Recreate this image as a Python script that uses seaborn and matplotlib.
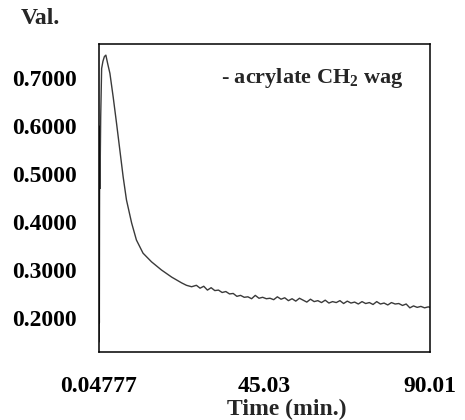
import pandas as pd
import matplotlib
matplotlib.use("Agg")
import matplotlib.pyplot as plt
from matplotlib.ticker import FixedLocator, MultipleLocator
import seaborn as sns

# time (min.) and band value
time_min = [0.048, 0.09, 0.13, 0.18, 0.24, 0.30, 0.50, 0.75, 1.1, 1.5, 1.9, 2.4,
            3.0, 3.9, 4.8, 5.7, 6.6, 7.5, 8.9, 10.2, 12.0, 14.3, 17.0, 19.8,
            22.5, 23.8, 25.2, 26.5, 27.5, 28.5, 29.5, 30.5, 31.5, 32.5, 33.5,
            34.5, 35.5, 36.5, 37.5, 38.5, 39.5, 40.5, 41.5, 42.5, 43.5, 44.5,
            45.5, 46.5, 47.5, 48.5, 49.5, 50.5, 51.5, 52.5, 53.5, 54.5, 55.5,
            56.5, 57.5, 58.5, 59.5, 60.5, 61.5, 62.5, 63.5, 64.5, 65.5, 66.5,
            67.5, 68.5, 69.5, 70.5, 71.5, 72.5, 73.5, 74.5, 75.5, 76.5, 77.5,
            78.5, 79.5, 80.5, 81.5, 82.5, 83.5, 84.5, 85.5, 86.5, 87.5, 88.5,
            89.5, 90.01]
value = [0.15, 0.25, 0.19, 0.43, 0.60, 0.47, 0.62, 0.72, 0.735, 0.745, 0.748, 0.73,
         0.71, 0.66, 0.606, 0.55, 0.494, 0.446, 0.398, 0.3625, 0.335, 0.317, 0.300, 0.285,
         0.273, 0.268, 0.265, 0.268, 0.262, 0.266, 0.258, 0.263, 0.257, 0.258, 0.253,
         0.255, 0.250, 0.251, 0.245, 0.247, 0.243, 0.244, 0.240, 0.247, 0.241, 0.243,
         0.240, 0.241, 0.238, 0.244, 0.239, 0.242, 0.236, 0.240, 0.235, 0.241, 0.237,
         0.233, 0.239, 0.234, 0.236, 0.232, 0.237, 0.231, 0.234, 0.232, 0.236, 0.230,
         0.235, 0.231, 0.233, 0.229, 0.234, 0.230, 0.232, 0.228, 0.234, 0.229, 0.231,
         0.227, 0.232, 0.229, 0.230, 0.226, 0.229, 0.221, 0.225, 0.222, 0.224, 0.221,
         0.223, 0.222]

x_ticks = [0.04777, 45.03, 90.01]
x_minor = [22.54, 67.52]
x_labels = ["0.04777", "45.03", "90.01"]
y_ticks = [0.2, 0.3, 0.4, 0.5, 0.6, 0.7]

sns.set_style("white")
plt.rcParams["font.family"] = ["Liberation Serif", "DejaVu Serif"]
plt.rcParams["font.weight"] = "bold"
plt.rcParams["mathtext.fontset"] = "custom"
plt.rcParams["mathtext.rm"] = "Liberation Serif:bold"
plt.rcParams["mathtext.bf"] = "Liberation Serif:bold"

df = pd.DataFrame({"Time": time_min, "Val": value})

fig = plt.figure(figsize=(4.65, 4.2), dpi=100)
ax = fig.add_axes([0.213, 0.162, 0.712, 0.733])
sns.lineplot(data=df, x="Time", y="Val", color="#3a3a3a", linewidth=1.0, ax=ax)

ax.set_xlim(0.04777, 90.01)
ax.set_ylim(0.129, 0.771)
ax.xaxis.set_major_locator(FixedLocator(x_ticks))
ax.xaxis.set_minor_locator(FixedLocator(x_minor))
ax.set_xticklabels(x_labels)
ax.yaxis.set_major_locator(FixedLocator(y_ticks))
ax.yaxis.set_minor_locator(MultipleLocator(0.05))
ax.set_yticklabels([f"{v:.4f}" for v in y_ticks])
ax.tick_params(axis="both", which="both", direction="out", length=4, width=0.8,
               colors="black", labelsize=17)
ax.tick_params(axis="y", pad=12)
ax.tick_params(axis="x", pad=13)
for s in ax.spines.values():
    s.set_color("black")
    s.set_linewidth(1.1)

ax.set_xlabel("")
ax.set_ylabel("")
fig.text(0.617, 0.024, "Time (min.)", fontsize=17, fontweight="bold",
         ha="center", va="center")
fig.text(0.045, 0.957, "Val.", fontsize=17, fontweight="bold", va="center")
ax.text(0.92, 0.89, r"- acrylate CH$_2$ wag", transform=ax.transAxes,
        fontsize=16, fontweight="bold", ha="right", va="center")

fig.savefig("out.png", dpi=100)
